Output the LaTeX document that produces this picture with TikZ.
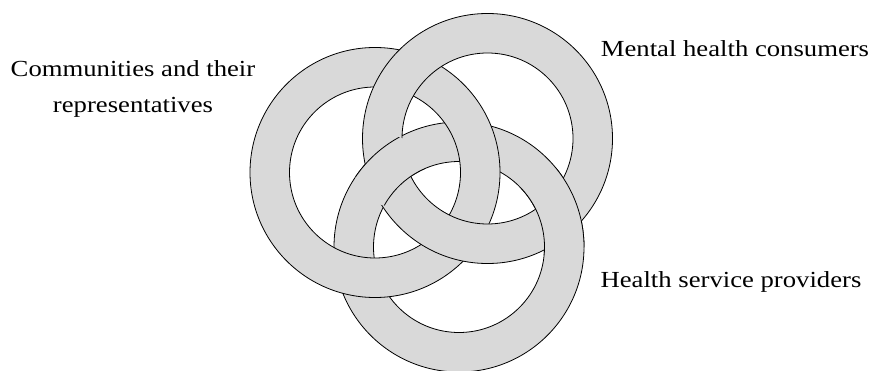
\documentclass[tikz,border=0pt]{standalone}
\usepackage{fontspec}
\newfontfamily\labfont[FakeStretch=1.16]{Liberation Serif}
\definecolor{ringfill}{RGB}{217,217,217}
\tikzset{
  ringedge/.style={draw=black, line width=0.8pt},
  ring/.pic={
    \fill[ringfill, even odd rule] (0,0) circle (125pt) (0,0) circle (85.5pt);
    \draw[ringedge] (0,0) circle (125pt) (0,0) circle (85.5pt);
  },
  labtext/.style={font=\labfont\fontsize{23}{36}\selectfont, inner sep=0pt, text=black},
}
\begin{document}
\begin{tikzpicture}[x=1pt, y=-1pt]
  \useasboundingbox (0,0) rectangle (874,371);
  \coordinate (cL) at (375,172.5);
  \coordinate (cM) at (487.5,138.5);
  \coordinate (cH) at (459,247);
  \coordinate (xA) at (390,171);
  \coordinate (xB) at (557,212);
  % H under L, L under M
  \pic at (cH) {ring};
  \pic at (cL) {ring};
  \pic at (cM) {ring};
  % H over M at its two crossings with M
  \begin{scope}
    \clip (xA) circle (35pt);
    \pic at (cH) {ring};
  \end{scope}
  \begin{scope}
    \clip (xB) circle (45pt);
    \pic at (cH) {ring};
  \end{scope}
  % labels
  \node[labtext, align=center, anchor=base] (comm) at (133,113) {Communities and their\\representatives};
  \node[labtext, anchor=base] (cons) at (735,57) {Mental health consumers};
  \node[labtext, anchor=base] (prov) at (731,287) {Health service providers};
\end{tikzpicture}
\end{document}
